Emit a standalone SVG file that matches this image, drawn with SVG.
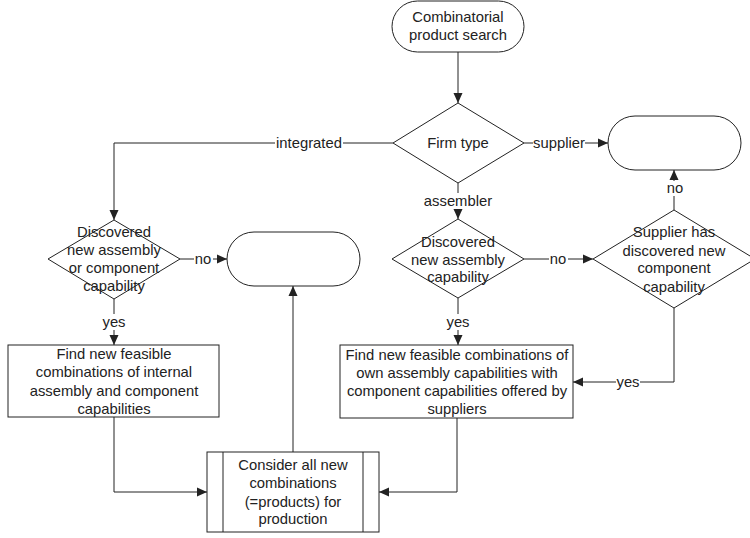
<svg xmlns="http://www.w3.org/2000/svg" width="750" height="538" viewBox="0 0 750 538">
<style>
.s{fill:#fff;stroke:#222;stroke-width:1}
.t{font-family:"Liberation Sans",Arial,sans-serif;font-size:14.8px;fill:#222;text-anchor:middle}
.c{fill:none;stroke:#222;stroke-width:1}
.bg{fill:#fff;stroke:none}
</style>
<defs>
<marker id="a" markerUnits="userSpaceOnUse" markerWidth="11" markerHeight="10" refX="10" refY="5" orient="auto"><path d="M0,0.5 L10,5 L0,9.5 z" fill="#222"/></marker>
</defs>
<rect width="750" height="538" fill="#fff"/>
<g id="connectors">
<path class="c" d="M458,52 V103" marker-end="url(#a)"/>
<path class="c" d="M524,143 H608" marker-end="url(#a)"/>
<path class="c" d="M393,143 H114 V220" marker-end="url(#a)"/>
<path class="c" d="M458,183 V219" marker-end="url(#a)"/>
<path class="c" d="M524,259 H593" marker-end="url(#a)"/>
<path class="c" d="M674,210 V170" marker-end="url(#a)"/>
<path class="c" d="M674,308 V382 H573" marker-end="url(#a)"/>
<path class="c" d="M458,298 V345" marker-end="url(#a)"/>
<path class="c" d="M180,259 H227" marker-end="url(#a)"/>
<path class="c" d="M114,299 V345" marker-end="url(#a)"/>
<path class="c" d="M114,417 V492 H207" marker-end="url(#a)"/>
<path class="c" d="M457,418 V492 H379" marker-end="url(#a)"/>
<path class="c" d="M293,452 V286" marker-end="url(#a)"/>
<rect class="bg" x="275" y="135" width="68" height="16"/><text class="t" x="309" y="148">integrated</text>
<rect class="bg" x="533" y="135" width="52" height="16"/><text class="t" x="559" y="148">supplier</text>
<rect class="bg" x="665" y="181" width="19" height="15"/><text class="t" x="675" y="193">no</text>
<rect class="bg" x="425" y="193" width="66" height="16"/><text class="t" x="458" y="206">assembler</text>
<rect class="bg" x="549" y="251" width="19" height="15"/><text class="t" x="558" y="264">no</text>
<rect class="bg" x="446" y="314" width="24" height="16"/><text class="t" x="458" y="327">yes</text>
<rect class="bg" x="194" y="251" width="19" height="15"/><text class="t" x="203" y="264">no</text>
<rect class="bg" x="102" y="314" width="24" height="16"/><text class="t" x="114" y="327">yes</text>
<rect class="bg" x="616" y="374" width="24" height="16"/><text class="t" x="628" y="387">yes</text>
</g>
<g id="start">
<rect class="s" x="392" y="1" width="132" height="51" rx="25.5"/>
<text class="t" x="458" y="22">Combinatorial</text>
<text class="t" x="458" y="40">product search</text>
</g>
<g id="firm-type">
<polygon class="s" points="458,103 524,143 458,183 393,143"/>
<text class="t" x="458" y="148">Firm type</text>
</g>
<g id="end-supplier">
<rect class="s" x="608" y="116" width="133" height="54" rx="27"/>
</g>
<g id="end-mid">
<rect class="s" x="227" y="232" width="133" height="54" rx="27"/>
</g>
<g id="integrated-decision">
<polygon class="s" points="114,220 180,259 114,299 48,259"/>
<text class="t" x="114" y="237">Discovered</text>
<text class="t" x="114" y="255">new assembly</text>
<text class="t" x="114" y="273">or component</text>
<text class="t" x="114" y="291">capability</text>
</g>
<g id="assembler-decision">
<polygon class="s" points="458,219 524,259 458,298 392,259"/>
<text class="t" x="458" y="247">Discovered</text>
<text class="t" x="458" y="265">new assembly</text>
<text class="t" x="458" y="282">capability</text>
</g>
<g id="supplier-decision">
<polygon class="s" points="674,210 755,259 674,308 593,259"/>
<text class="t" x="674" y="237">Supplier has</text>
<text class="t" x="674" y="256">discovered new</text>
<text class="t" x="674" y="273">component</text>
<text class="t" x="674" y="292">capability</text>
</g>
<g id="internal-combinations">
<rect class="s" x="8" y="345" width="211" height="72"/>
<text class="t" x="114" y="359">Find new feasible</text>
<text class="t" x="114" y="377">combinations of internal</text>
<text class="t" x="114" y="396">assembly and component</text>
<text class="t" x="114" y="414">capabilities</text>
</g>
<g id="supplier-combinations">
<rect class="s" x="340" y="345" width="233" height="73"/>
<text class="t" x="457" y="360">Find new feasible combinations of</text>
<text class="t" x="457" y="378">own assembly capabilities with</text>
<text class="t" x="457" y="396">component capabilities offered by</text>
<text class="t" x="457" y="414">suppliers</text>
</g>
<g id="consider">
<rect class="s" x="207" y="452" width="172" height="80"/>
<path class="c" d="M223,452 V532 M363,452 V532"/>
<text class="t" x="293" y="470">Consider all new</text>
<text class="t" x="293" y="488">combinations</text>
<text class="t" x="293" y="507">(=products) for</text>
<text class="t" x="293" y="524">production</text>
</g>
</svg>
